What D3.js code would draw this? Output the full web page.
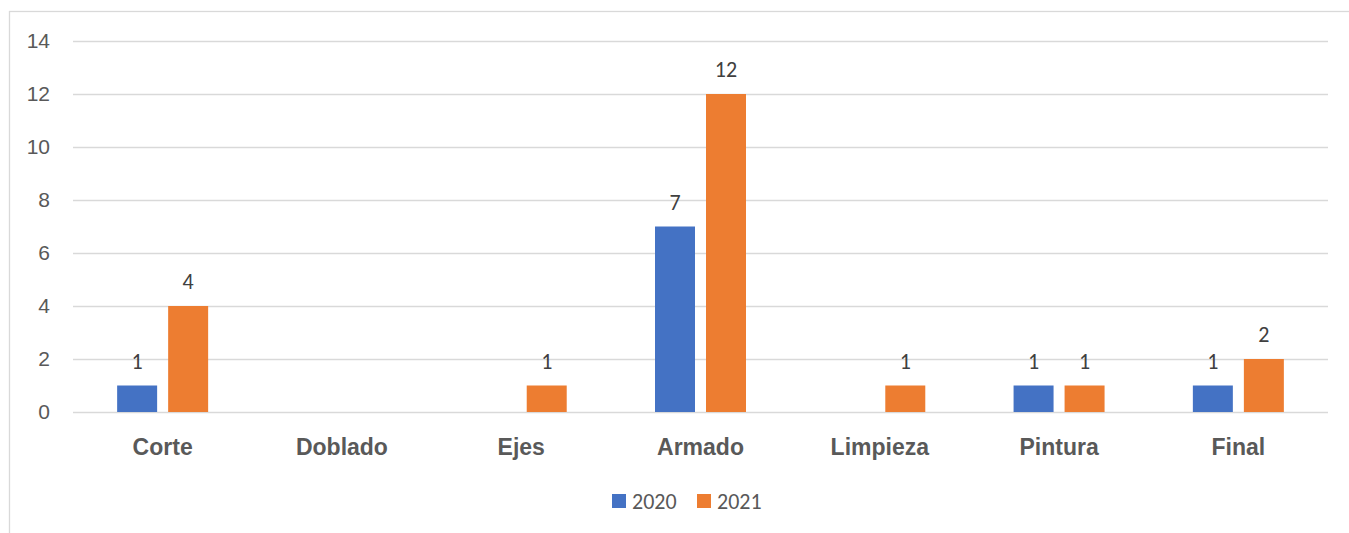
<!DOCTYPE html>
<html>
<head>
<meta charset="utf-8">
<script src="https://cdn.jsdelivr.net/npm/d3@7"></script>
<style>
  html, body { margin: 0; padding: 0; background: #fff; }
  svg { display: block; font-family: Carlito, "Liberation Sans", Arial, sans-serif; }
</style>
</head>
<body>
<svg id="chart" width="1349" height="533"></svg>
<script>
const categories = ["Corte", "Doblado", "Ejes", "Armado", "Limpieza", "Pintura", "Final"];
const series = ["2020", "2021"];
const values2020 = [1, 0, 0, 7, 0, 1, 1];
const values2021 = [4, 0, 1, 12, 1, 1, 2];
const yTicks = [0, 2, 4, 6, 8, 10, 12, 14];
const colors = ["#4472C4", "#ED7D31"];

const svg = d3.select("#chart");
const plot = { left: 73, right: 1328, top: 41, bottom: 412 };

// outer chart frame (open on right and bottom edges)
svg.append("rect")
  .attr("x", 9.5).attr("y", 11.5)
  .attr("width", 1400).attr("height", 600)
  .attr("fill", "none").attr("stroke", "#d9d9d9").attr("stroke-width", 1.3);

const x0 = d3.scaleBand().domain(categories).range([plot.left, plot.right]);
const groupWidth = 91;
const x1 = d3.scaleBand().domain(series).range([0, groupWidth]).paddingInner(0.216);
const y = d3.scaleLinear().domain([0, 14]).range([plot.bottom, plot.top]);

// horizontal gridlines + tick labels
const yAxis = d3.axisLeft(y).tickValues(yTicks).tickSize(-(plot.right - plot.left)).tickPadding(20);
const gy = svg.append("g").attr("transform", `translate(${plot.left},0)`).call(yAxis);
gy.select(".domain").remove();
gy.selectAll(".tick line").attr("stroke", "#d9d9d9").attr("stroke-width", 1.5);
gy.selectAll(".tick text").attr("fill", "#595959").attr("font-size", 21).attr("dx", -3);

// category labels
const xAxis = d3.axisBottom(x0).tickSize(0);
const gx = svg.append("g").attr("transform", `translate(0,${plot.bottom})`).call(xAxis);
gx.select(".domain").remove();
gx.selectAll(".tick text")
  .attr("y", 43).attr("dy", null)
  .attr("fill", "#595959").attr("font-size", 23).attr("font-weight", "bold");

const rows = categories.map((c, i) => ({ cat: c, vals: [values2020[i], values2021[i]] }));

const groups = svg.append("g").selectAll("g").data(rows).join("g")
  .attr("transform", d => `translate(${x0(d.cat) + x0.bandwidth() / 2 - groupWidth / 2},0)`);

const items = groups.selectAll("g").data(d => d.vals.map((v, j) => ({ s: series[j], v, j }))
  .filter(e => e.v > 0)).join("g");

items.append("rect")
  .attr("x", d => x1(d.s))
  .attr("y", d => y(d.v))
  .attr("width", x1.bandwidth())
  .attr("height", d => y(0) - y(d.v))
  .attr("fill", d => colors[d.j]);

items.append("text")
  .attr("x", d => x1(d.s) + x1.bandwidth() / 2)
  .attr("y", d => y(d.v) - 17)
  .attr("text-anchor", "middle")
  .attr("fill", "#404040")
  .attr("font-size", 22)
  .text(d => d.v);

// legend
const legend = svg.append("g");
const legendX = [612, 697];
series.forEach((s, i) => {
  legend.append("rect").attr("x", legendX[i]).attr("y", 494).attr("width", 14).attr("height", 14).attr("fill", colors[i]);
  legend.append("text").attr("x", legendX[i] + 20).attr("y", 509)
    .attr("fill", "#595959").attr("font-size", 22).text(s);
});
</script>
</body>
</html>
